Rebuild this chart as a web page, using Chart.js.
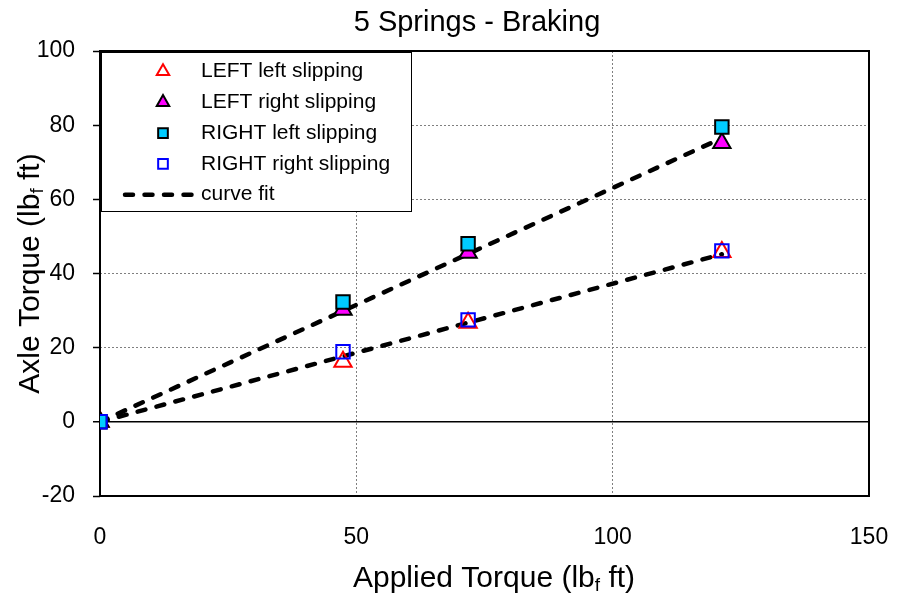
<!DOCTYPE html>
<html lang="en">
<head>
    <meta charset="UTF-8">
    <title>5 Springs - Braking</title>
    <script src="https://cdn.jsdelivr.net/npm/chart.js"></script>
    <style>
        html, body { margin: 0; padding: 0; background: #fff; }
        #wrap { width: 897px; height: 598px; }
    </style>
</head>
<body>
    <div id="wrap"><canvas id="brakingChart"></canvas></div>
    <script>
        // Measured torques (lbf ft)
        const appliedTorque = [0, 47.4, 71.8, 121.3];
        const leftLeftSlipping = [0, 16.2, 26.7, 45.8];
        const leftRightSlipping = [0, 30.2, 45.6, 75.2];
        const rightLeftSlipping = [0, 32.3, 48.0, 79.5];
        const rightRightSlipping = [0, 18.9, 27.5, 46.1];

        // Straight-line fits through the origin, given by their end points
        const fitX = [0, 121.3];
        const fitUpper = [0, 76.5];
        const fitLower = [0, 45.2];

        const xTicks = [0, 50, 100, 150];
        const yTicks = [-20, 0, 20, 40, 60, 80, 100];

        const FONT = '"Liberation Sans", Arial, sans-serif';

        function pts(xs, ys) {
            return xs.map((x, i) => ({ x: x, y: ys[i] }));
        }

        // hollow markers keep a transparent fill so overlapping marks show through
        const markerSets = [
            { label: 'LEFT left slipping', data: pts(appliedTorque, leftLeftSlipping),
              pointStyle: 'triangle', pointRadius: 10, backgroundColor: 'rgba(255,255,255,0)', borderColor: '#ff0000', borderWidth: 2, order: 4 },
            { label: 'LEFT right slipping', data: pts(appliedTorque, leftRightSlipping),
              pointStyle: 'triangle', pointRadius: 10, backgroundColor: '#ff00ff', borderColor: '#000000', borderWidth: 2, order: 3 },
            { label: 'RIGHT left slipping', data: pts(appliedTorque, rightLeftSlipping),
              pointStyle: 'rect', pointRadius: 9.5, backgroundColor: '#00ccff', borderColor: '#000000', borderWidth: 2, order: 2 },
            { label: 'RIGHT right slipping', data: pts(appliedTorque, rightRightSlipping),
              pointStyle: 'rect', pointRadius: 9.5, backgroundColor: 'rgba(255,255,255,0)', borderColor: '#0000ff', borderWidth: 2, order: 1 }
        ];
        markerSets.forEach(d => { d.showLine = false; d.pointHoverRadius = d.pointRadius; });

        const fitStyle = {
            showLine: true, pointRadius: 0, borderColor: '#000000', borderWidth: 4.5,
            borderDash: [8, 11.5], borderCapStyle: 'round', fill: false, order: 5
        };
        const fitSets = [
            Object.assign({ label: 'curve fit', data: pts(fitX, fitUpper) }, fitStyle),
            Object.assign({ label: 'curve fit', data: pts(fitX, fitLower), legendHidden: true }, fitStyle)
        ];

        // text with a subscript piece: parts = [[text, isSub], ...]
        function subText(ctx, parts, size) {
            const sub = Math.round(size * 0.62);
            let w = 0;
            parts.forEach(p => {
                ctx.font = (p[1] ? sub : size) + 'px ' + FONT;
                w += ctx.measureText(p[0]).width;
            });
            return { width: w, draw: function (x, y) {
                let cx = x;
                parts.forEach(p => {
                    ctx.font = (p[1] ? sub : size) + 'px ' + FONT;
                    ctx.fillText(p[0], cx, p[1] ? y + size * 0.22 : y);
                    cx += ctx.measureText(p[0]).width;
                });
            } };
        }

        const decorations = {
            id: 'decorations',
            beforeDatasetsDraw(chart) {
                const { ctx, chartArea: a } = chart;
                ctx.save();
                ctx.strokeStyle = '#000';
                ctx.lineWidth = 2;
                ctx.strokeRect(a.left, a.top, a.right - a.left, a.bottom - a.top);
                ctx.restore();
            },
            afterDraw(chart) {
                const { ctx, chartArea: a } = chart;
                ctx.save();
                ctx.fillStyle = '#000';
                ctx.textBaseline = 'middle';
                ctx.textAlign = 'left';

                // title
                ctx.font = '29px ' + FONT;
                const title = '5 Springs - Braking';
                ctx.fillText(title, 477 - ctx.measureText(title).width / 2, 23);

                // x axis title
                const xt = subText(ctx, [['Applied Torque (lb', false], ['f', true], [' ft)', false]], 30);
                xt.draw(494 - xt.width / 2, 579);

                // y axis title
                ctx.translate(31, (a.top + a.bottom) / 2);
                ctx.rotate(-Math.PI / 2);
                const yt = subText(ctx, [['Axle Torque (lb', false], ['f', true], [' ft)', false]], 30);
                yt.draw(-yt.width / 2, 0);
                ctx.restore();

                // legend box inside the plot
                const box = { x: a.left + 1, y: a.top + 1, w: 310, h: 159 };
                ctx.save();
                ctx.fillStyle = '#fff';
                ctx.fillRect(box.x, box.y, box.w, box.h);
                ctx.strokeStyle = '#000';
                ctx.lineWidth = 1;
                ctx.strokeRect(box.x + 0.5, box.y + 0.5, box.w, box.h);
                const entries = chart.data.datasets.filter(d => !d.legendHidden);
                ctx.font = '21px ' + FONT;
                ctx.textBaseline = 'middle';
                entries.forEach((d, i) => {
                    const y = box.y + 19.5 + i * 30.8;
                    const mx = 163;
                    if (d.showLine) {
                        ctx.save();
                        ctx.strokeStyle = d.borderColor;
                        ctx.lineWidth = d.borderWidth;
                        ctx.lineCap = 'round';
                        ctx.setLineDash(d.borderDash);
                        ctx.beginPath();
                        ctx.moveTo(125, y);
                        ctx.lineTo(195, y);
                        ctx.stroke();
                        ctx.restore();
                    } else {
                        ctx.save();
                        ctx.fillStyle = d.backgroundColor;
                        ctx.strokeStyle = d.borderColor;
                        ctx.lineWidth = d.borderWidth;
                        Chart.helpers.drawPoint(ctx, {
                            pointStyle: d.pointStyle, radius: d.pointRadius * 0.72,
                            borderWidth: d.borderWidth, rotation: 0
                        }, mx, y);
                        ctx.restore();
                    }
                    ctx.fillStyle = '#000';
                    ctx.fillText(d.label, 201, y);
                });
                ctx.restore();
            }
        };

        const ctx = document.getElementById('brakingChart').getContext('2d');
        new Chart(ctx, {
            type: 'scatter',
            data: { datasets: markerSets.concat(fitSets) },
            options: {
                responsive: true,
                maintainAspectRatio: false,
                animation: false,
                layout: { padding: { top: 51, right: 28, left: 0, bottom: 0 } },
                plugins: {
                    legend: { display: false },
                    title: { display: false },
                    tooltip: { enabled: false }
                },
                scales: {
                    x: {
                        type: 'linear',
                        min: xTicks[0],
                        max: xTicks[xTicks.length - 1],
                        afterBuildTicks: s => { s.ticks = xTicks.map(v => ({ value: v })); },
                        afterFit: s => { s.height = 102; s.paddingLeft = 0; s.paddingRight = 0; },
                        ticks: { color: '#000', font: { family: FONT, size: 23 }, padding: 28, maxRotation: 0 },
                        grid: {
                            color: '#7f7f7f', lineWidth: 1, drawTicks: false
                        },
                        border: { display: false, dash: [2, 2] }
                    },
                    y: {
                        type: 'linear',
                        min: yTicks[0],
                        max: yTicks[yTicks.length - 1],
                        afterBuildTicks: s => { s.ticks = yTicks.map(v => ({ value: v })); },
                        afterFit: s => { s.width = 100; s.paddingTop = 0; s.paddingBottom = 0; },
                        ticks: { color: '#000', font: { family: FONT, size: 23 }, padding: 18 },
                        grid: {
                            color: c => (c.tick && c.tick.value === 0 ? '#000' : '#7f7f7f'),
                            lineWidth: c => (c.tick && c.tick.value === 0 ? 1.5 : 1),
                            drawTicks: true,
                            tickLength: 7,
                            tickColor: '#000',
                            tickWidth: 1.5
                        },
                        border: {
                            display: false,
                            dash: c => (c.tick && c.tick.value === 0 ? [] : [2, 2])
                        }
                    }
                }
            },
            plugins: [decorations]
        });
    </script>
</body>
</html>
